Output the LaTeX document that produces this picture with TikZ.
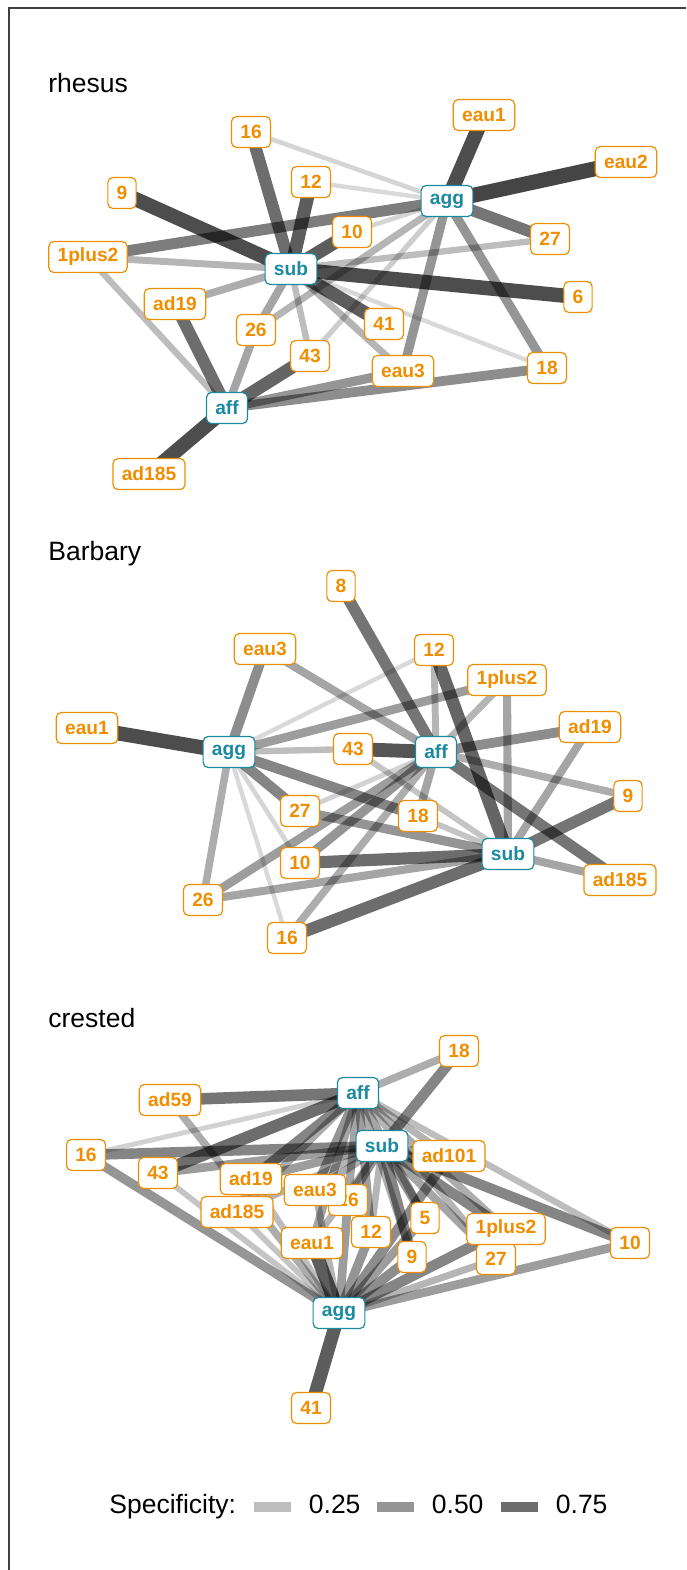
\documentclass[tikz,border=0pt]{standalone}
\usepackage{fontspec}
\setmainfont{Liberation Sans}
\usepackage{tikz}
\usetikzlibrary{backgrounds}
\definecolor{tagorange}{HTML}{EE8E00}
\definecolor{hubteal}{HTML}{1B8AA0}
\tikzset{
  tag/.style={draw=tagorange,text=tagorange,fill=white,line width=0.6pt,rounded corners=2.5pt,
    font=\fontsize{9.6}{10}\selectfont\bfseries,inner xsep=4.4pt,inner ysep=0pt,minimum height=15.5pt},
  hub/.style={tag,draw=hubteal,text=hubteal},
  title/.style={anchor=base west,inner sep=0pt,font=\fontsize{13.25}{15}\selectfont},
  key/.style={fill=black,inner sep=0pt,minimum width=18.5pt,minimum height=5pt}
}

\begin{document}
\begin{tikzpicture}[x=0.5pt,y=-0.5pt]
\useasboundingbox (0,0) rectangle (686,1570);
\draw[line width=0.75pt,black!75] (9,1570) -- (9,8) -- (686,8);

% rhesus
\node[title] (rt) at (48,92) {rhesus};
\node[hub] (r-agg) at (447,201) {agg};
\node[hub] (r-sub) at (291,269) {sub};
\node[hub] (r-aff) at (227,408) {aff};
\foreach \n/\x/\y in {16/251/132, eau1/484/115, eau2/626/162, 12/311/182, 9/122/193,
    27/550/239, 10/352/232, 1plus2/88/257, 6/578/297, ad19/175/304, 26/256/330,
    41/384/324, 43/310/356, eau3/403/371, 18/547/368, ad185/149/474}
  \node[tag] (r-\n) at (\x,\y) {\n};
\begin{scope}[on background layer]
\foreach \a/\b/\s in {16/sub/0.75, 16/agg/0.1, eau1/agg/0.95, eau2/agg/1.0, 12/agg/0.08,
    12/sub/0.85, 9/sub/0.95, 1plus2/agg/0.65, 1plus2/sub/0.3, 1plus2/aff/0.25,
    10/sub/0.85, 10/agg/0.1, 27/agg/0.7, 27/sub/0.25, 6/sub/0.95, ad19/sub/0.35,
    ad19/aff/0.75, 26/sub/0.4, 26/aff/0.4, 26/agg/0.3, 41/sub/0.85, 43/aff/0.8,
    43/sub/0.25, 43/agg/0.15, eau3/agg/0.5, eau3/sub/0.3, eau3/aff/0.5, 18/agg/0.5,
    18/aff/0.55, 18/sub/0.08, ad185/aff/0.95}{
  \pgfmathsetmacro\op{0.1+0.63*\s}
  \pgfmathsetmacro\lw{1.75+5.75*\s}
  \draw[line width=\lw pt,draw opacity=\op] (r-\a.center) -- (r-\b.center);
}
\end{scope}

% Barbary
\node[title] (bt) at (48,560) {Barbary};
\node[hub] (b-agg) at (229,752) {agg};
\node[hub] (b-aff) at (436,752) {aff};
\node[hub] (b-sub) at (508,854) {sub};
\foreach \n/\x/\y in {8/341/586, eau3/265/649, 12/434/650, 1plus2/507/680, eau1/87/728,
    ad19/590/727, 43/353/749, 9/628/796, 27/300/811, 18/418/816, 10/300/863,
    ad185/620/880, 26/203/900, 16/287/938}
  \node[tag] (b-\n) at (\x,\y) {\n};
\begin{scope}[on background layer]
\foreach \a/\b/\s in {eau1/agg/0.95, eau3/agg/0.55, eau3/aff/0.4, 8/aff/0.7, 12/agg/0.08,
    12/aff/0.3, 12/sub/0.8, 1plus2/agg/0.45, 1plus2/aff/0.3, 1plus2/sub/0.4,
    ad19/aff/0.55, ad19/sub/0.4, 43/agg/0.25, 43/aff/0.9, 43/sub/0.2, 9/aff/0.35,
    9/sub/0.7, ad185/aff/0.7, ad185/sub/0.4, 27/agg/0.6, 27/aff/0.12, 27/sub/0.5,
    18/agg/0.6, 18/aff/0.4, 18/sub/0.2, 10/agg/0.1, 10/aff/0.5, 10/sub/0.75,
    26/agg/0.35, 26/aff/0.45, 26/sub/0.4, 16/agg/0.08, 16/aff/0.35, 16/sub/0.75}{
  \pgfmathsetmacro\op{0.1+0.63*\s}
  \pgfmathsetmacro\lw{1.75+5.75*\s}
  \draw[line width=\lw pt,draw opacity=\op] (b-\a.center) -- (b-\b.center);
}
\end{scope}

% crested
\node[title] (ct) at (48,1027) {crested};
\node[hub] (c-aff) at (358,1093) {aff};
\node[hub] (c-sub) at (382,1146) {sub};
\node[hub] (c-agg) at (339,1313) {agg};
\foreach \n/\x/\y in {18/459/1051, ad59/170/1100, 16/86/1155, ad101/449/1156, 43/158/1173,
    ad19/251/1179, 26/348/1200, eau3/315/1190, ad185/237/1212, 5/425/1218,
    27/496/1259, 1plus2/506/1229, 12/371/1232, eau1/312/1243, 10/630/1243,
    9/412/1257, 41/311/1408}
  \node[tag] (c-\n) at (\x,\y) {\n};
\begin{scope}[on background layer]
\foreach \a/\b/\s in {18/aff/0.35, 18/sub/0.6, ad59/aff/0.7, ad59/agg/0.35, 16/aff/0.12,
    16/sub/0.6, 16/agg/0.5, 43/aff/0.75, 43/sub/0.45, 43/agg/0.2, ad19/aff/0.6,
    ad19/sub/0.45, ad19/agg/0.25, eau3/aff/0.5, eau3/sub/0.35, eau3/agg/0.3,
    26/aff/0.4, 26/sub/0.5, 26/agg/0.45, ad185/aff/0.35, ad185/sub/0.3, ad185/agg/0.2,
    ad101/aff/0.3, ad101/sub/0.45, ad101/agg/0.55, 5/aff/0.4, 5/sub/0.5, 5/agg/0.45,
    1plus2/aff/0.35, 1plus2/sub/0.6, 1plus2/agg/0.6, 12/aff/0.45, 12/sub/0.3,
    12/agg/0.5, eau1/aff/0.4, eau1/sub/0.3, eau1/agg/0.85, 10/aff/0.25, 10/sub/0.6,
    10/agg/0.45, 9/aff/0.35, 9/sub/0.6, 9/agg/0.55, 27/aff/0.3, 27/sub/0.4,
    27/agg/0.3, 41/agg/0.85}{
  \pgfmathsetmacro\op{0.1+0.63*\s}
  \pgfmathsetmacro\lw{1.75+5.75*\s}
  \draw[line width=\lw pt,draw opacity=\op] (c-\a.center) -- (c-\b.center);
}
\end{scope}

% legend
\node[title] (spec) at (109,1513) {Specificity:};
\node[key,fill opacity=0.2575] (k1) at (272.5,1507) {};
\node[title] (l1) at (308.5,1513) {0.25};
\node[key,fill opacity=0.415] (k2) at (395.5,1507) {};
\node[title] (l2) at (431.5,1513) {0.50};
\node[key,fill opacity=0.5725] (k3) at (519.5,1507) {};
\node[title] (l3) at (555.5,1513) {0.75};
\end{tikzpicture}
\end{document}
